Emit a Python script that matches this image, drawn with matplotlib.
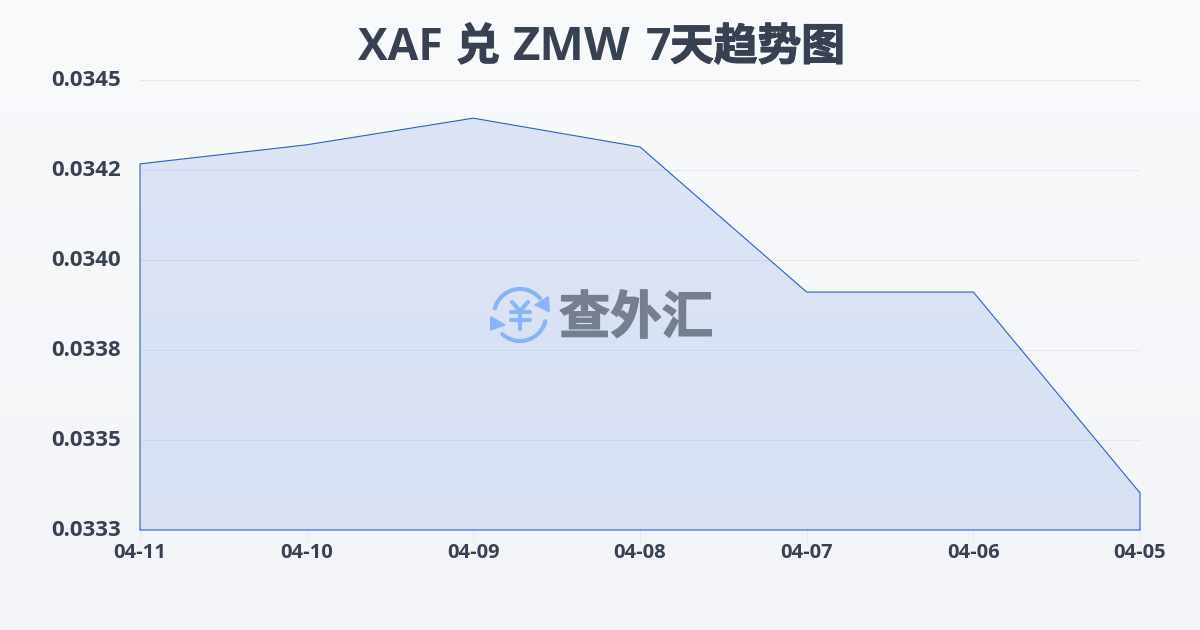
import numpy as np
import matplotlib
matplotlib.use('Agg')
import matplotlib.pyplot as plt
import matplotlib.patheffects as pe
from matplotlib.patches import Polygon

plt.rcParams['font.family'] = ['Open Sans', 'DejaVu Sans']

# 数据
dates = ['04-11', '04-10', '04-09', '04-08', '04-07', '04-06', '04-05']
rates = [0.034267, 0.034320, 0.034394, 0.034314, 0.033911, 0.033911, 0.033353]
y_ticks = [0.0345, 0.03425, 0.0340, 0.03375, 0.0335, 0.03325]
y_labels = ['0.0345', '0.0342', '0.0340', '0.0338', '0.0335', '0.0333']

W, H = 1200, 630
text_color = '#374151'
cjk = 'Noto Sans CJK SC'

fig = plt.figure(figsize=(W / 100, H / 100), dpi=100)

# 背景渐变
bg = fig.add_axes([0, 0, 1, 1], zorder=0)
bg_grad = np.linspace(0, 1, 256).reshape(-1, 1, 1)
bg_top = np.array([249, 250, 252]) / 255
bg_bot = np.array([243, 244, 247]) / 255
bg.imshow(bg_top + (bg_bot - bg_top) * bg_grad, aspect='auto', extent=[0, 1, 0, 1])
bg.axis('off')

# 主图
ax = fig.add_axes([140 / W, 1 - 530 / H, 1000 / W, 450 / H], zorder=1)
ax.patch.set_alpha(0)
x = np.arange(len(dates))
base = y_ticks[-1]

ax.set_axisbelow(True)
ax.grid(axis='y', color='#e6e8ed', linewidth=0.72)

grad = np.zeros((256, 1, 4))
t = np.linspace(0, 1, 256)
grad[:, 0, 0] = 60 / 255
grad[:, 0, 1] = (110 + (105 - 110) * t) / 255
grad[:, 0, 2] = (225 + (215 - 225) * t) / 255
grad[:, 0, 3] = 0.15
edge = ax.fill_between(x, rates, base, facecolor='none', edgecolor='#2b5fc9', linewidth=0.8,
                       zorder=3, clip_on=False)
im = ax.imshow(grad, aspect='auto', extent=[0, len(x) - 1, base, y_ticks[0]], zorder=2)
im.set_clip_path(edge.get_paths()[0], ax.transData)

ax.set_xlim(0, len(x) - 1)
ax.set_ylim(base, y_ticks[0])
ax.set_xticks(x)
ax.set_xticklabels(dates, fontsize=14.5, fontweight='bold', color=text_color)
ax.set_yticks(y_ticks)
ax.set_yticklabels(y_labels, fontsize=16, fontweight='bold', color=text_color, ha='left',
                   va='center')
ax.tick_params(axis='x', length=8, width=0.72, color='#e6e8ed', pad=1)
ax.tick_params(axis='y', length=0, pad=64)
for s in ax.spines.values():
    s.set_visible(False)

# 标题,拉丁字母和汉字分开画,汉字描边加粗
for piece, px, fam, size in [('XAF', 358, 'Open Sans', 32), ('兑', 456, cjk, 31.5),
                             ('ZMW', 513, 'Open Sans', 34), ('7', 646, 'Open Sans', 32),
                             ('天趋势图', 670, cjk, 31.5)]:
    tx = fig.text(px / W, 1 - 60 / H, piece, ha='left', va='baseline', fontsize=size,
                  fontweight='bold', color=text_color, family=fam)
    if fam == cjk:
        tx.set_path_effects([pe.withStroke(linewidth=0.9, foreground=text_color)])

# 水印 logo
ov = fig.add_axes([0, 0, 1, 1], zorder=2)
ov.set_xlim(0, W)
ov.set_ylim(H, 0)
ov.axis('off')
logo_blue = '#8ab4f8'
cx, cy, r = 520, 315, 26
for a0, a1 in [(165, 40), (-14, -133)]:
    ang = np.radians(np.linspace(a0, a1, 40))
    ov.plot(cx + r * np.cos(ang), cy - r * np.sin(ang), color=logo_blue, linewidth=3, solid_capstyle='round')
ov.add_patch(Polygon([(548.3, 296.7), (549.3, 311.7), (535, 305)], closed=True, color=logo_blue))
ov.add_patch(Polygon([(490.7, 316.7), (505, 325), (490.7, 330)], closed=True, color=logo_blue))
for xs, ys in [([512, 520, 528], [302, 311, 302]), ([511, 530], [312, 312]),
               ([511, 530], [320, 320]), ([520, 520], [311, 329])]:
    ov.plot(xs, ys, color=logo_blue, linewidth=3, solid_capstyle='round', solid_joinstyle='round')
wm = ov.text(636, 318, '查外汇', ha='center', va='center', fontsize=37, fontweight='bold',
             color='#767f90', family=cjk)
wm.set_path_effects([pe.withStroke(linewidth=1.0, foreground='#767f90')])

fig.savefig('out.png', dpi=100)
